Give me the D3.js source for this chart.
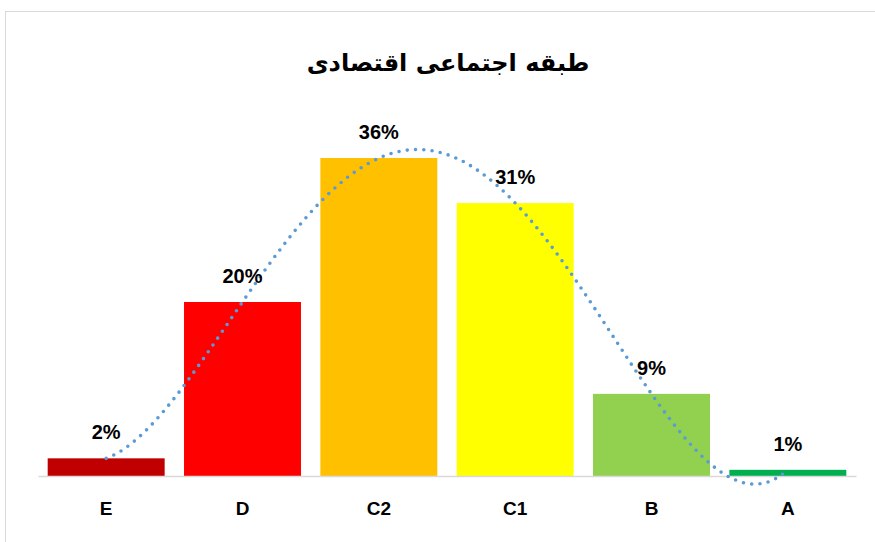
<!DOCTYPE html>
<html>
<head>
<meta charset="utf-8">
<script src="https://cdn.jsdelivr.net/npm/d3@7"></script>
<style>
  body { margin: 0; background: #fff; }
  text { font-family: "Liberation Sans", Arial, sans-serif; }
</style>
</head>
<body>
<div id="chart-area"></div>
<script>
/* Data */
var categories = ["E", "D", "C2", "C1", "B", "A"];
var values = [2.0, 19.7, 36.0, 30.9, 9.3, 0.7];   // percent
var colors = ["#C00000", "#FF0000", "#FFC000", "#FFFF00", "#92D050", "#00B050"];
var title = "طبقه اجتماعی اقتصادی";

var W = 875, H = 542;

var svg = d3.select("#chart-area").append("svg")
  .attr("width", W)
  .attr("height", H);

// chart border
svg.append("rect")
  .attr("x", 5.5).attr("y", 11.5)
  .attr("width", 900).attr("height", 560)
  .attr("fill", "#fff")
  .attr("stroke", "#d9d9d9");

// Title
svg.append("text")
  .attr("x", 448).attr("y", 71)
  .attr("text-anchor", "middle")
  .attr("font-size", "24px")
  .attr("font-weight", "bold")
  .style("font-family", "'DejaVu Sans', sans-serif")
  .attr("direction", "rtl")
  .text(title);

/* Scales */
var x = d3.scaleBand()
  .domain(categories)
  .range([38, 856])
  .paddingInner(0.142)
  .paddingOuter(0.071);

var y = d3.scaleLinear()
  .domain([0, 40])
  .range([476, 476 - 353.3]);

// position of category index (1..6) for the trendline
var xi = d3.scaleLinear()
  .domain([1, categories.length])
  .range([x(categories[0]) + x.bandwidth() / 2,
          x(categories[categories.length - 1]) + x.bandwidth() / 2]);

/* Bars */
svg.selectAll("rect.bar").data(values).enter()
  .append("rect")
  .attr("class", "bar")
  .attr("x", (d, i) => x(categories[i]))
  .attr("y", d => y(d))
  .attr("width", x.bandwidth())
  .attr("height", d => y(0) - y(d))
  .attr("fill", (d, i) => colors[i]);

// X Axis (line + labels only)
var xAxisCall = d3.axisBottom(x).tickSize(0).tickPadding(26);
var xAxis = svg.append("g")
  .attr("transform", "translate(0," + y(0) + ")")
  .call(xAxisCall);
xAxis.select(".domain").attr("stroke", "#d9d9d9").attr("stroke-width", 1.5);
xAxis.selectAll("text")
  .attr("font-size", "19px")
  .attr("font-weight", "bold")
  .attr("fill", "#000")
  .style("font-family", "'Liberation Sans', Arial, sans-serif");

/* Polynomial trendline (order 4, least squares on x = 1..n) */
function polyfit(xs, ys, order) {
  var n = order + 1;
  var A = [], b = [];
  for (var r = 0; r < n; r++) {
    A.push([]);
    for (var c = 0; c < n; c++) A[r].push(d3.sum(xs, v => Math.pow(v, r + c)));
    b.push(d3.sum(xs, (v, k) => ys[k] * Math.pow(v, r)));
  }
  // gaussian elimination
  for (var p = 0; p < n; p++) {
    var mx = p;
    for (var r2 = p + 1; r2 < n; r2++) if (Math.abs(A[r2][p]) > Math.abs(A[mx][p])) mx = r2;
    [A[p], A[mx]] = [A[mx], A[p]];
    [b[p], b[mx]] = [b[mx], b[p]];
    for (var r3 = p + 1; r3 < n; r3++) {
      var f = A[r3][p] / A[p][p];
      for (var c2 = p; c2 < n; c2++) A[r3][c2] -= f * A[p][c2];
      b[r3] -= f * b[p];
    }
  }
  var coef = new Array(n).fill(0);
  for (var r4 = n - 1; r4 >= 0; r4--) {
    var s = b[r4];
    for (var c3 = r4 + 1; c3 < n; c3++) s -= A[r4][c3] * coef[c3];
    coef[r4] = s / A[r4][r4];
  }
  return coef;
}
var xs = values.map((d, i) => i + 1);
var coef = polyfit(xs, values, 4);
var poly = t => coef.reduce((acc, c, k) => acc + c * Math.pow(t, k), 0);
var trend = d3.range(1, categories.length + 0.001, 0.05).map(t => [t, poly(t)]);

svg.append("path")
  .datum(trend)
  .attr("fill", "none")
  .attr("stroke", "#5B9BD5")
  .attr("stroke-width", 3.6)
  .attr("stroke-linecap", "round")
  .attr("stroke-dasharray", "0,8.3")
  .attr("d", d3.line().x(d => xi(d[0])).y(d => y(d[1])).curve(d3.curveCatmullRom));

/* Data labels */
svg.selectAll("text.label").data(values).enter()
  .append("text")
  .attr("class", "label")
  .attr("x", (d, i) => x(categories[i]) + x.bandwidth() / 2)
  .attr("y", d => y(d) - 19)
  .attr("text-anchor", "middle")
  .attr("font-size", "20px")
  .attr("font-weight", "bold")
  .attr("fill", "#000")
  .text(d => d3.format(".0f")(d) + "%");
</script>
</body>
</html>
